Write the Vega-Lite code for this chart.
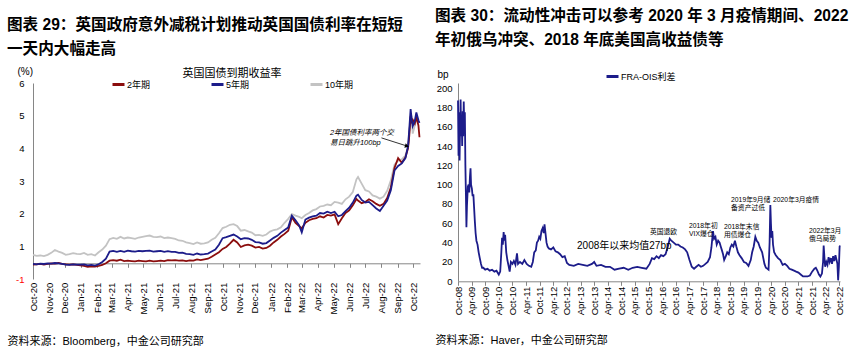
{
"$schema":"https://vega.github.io/schema/vega-lite/v6.json",
"background":"white",
"padding":{"left":7,"top":9,"right":5,"bottom":5},
"config":{"font":"Liberation Sans, Noto Sans CJK SC","view":{"stroke":null},
 "axis":{"grid":false,"labelColor":"black","titleColor":"black","domainColor":"#868686","tickColor":"#868686","labelFontSize":9.5,"labelFont":"Liberation Sans, Noto Sans CJK SC","titleFont":"Liberation Sans, Noto Sans CJK SC"},
 "legend":{"labelFont":"Liberation Sans, Noto Sans CJK SC","titleFont":"Liberation Sans, Noto Sans CJK SC","labelColor":"black","titleColor":"black"},
 "text":{"font":"Liberation Sans, Noto Sans CJK SC"}},
"spacing":11,
"resolve":{"scale":{"x":"independent","y":"independent","color":"independent"},"legend":{"color":"independent"}},
"hconcat":[
{
 "width":387,"height":196,
 "title":{"text":["图表 29：英国政府意外减税计划推动英国国债利率在短短","一天内大幅走高"],"anchor":"start","fontSize":15.6,"fontWeight":"bold","lineHeight":24,"dx":0,"offset":8.5,"color":"black","font":"Liberation Sans, Noto Sans CJK SC"},
 "layer":[
 {
  "data":{"values":[
{"d":"2020/10/01","2年期":0.44,"5年期":0.46,"10年期":0.74},
{"d":"2020/10/08","2年期":0.45,"5年期":0.45,"10年期":0.71},
{"d":"2020/10/15","2年期":0.46,"5年期":0.47,"10年期":0.72},
{"d":"2020/10/22","2年期":0.44,"5年期":0.46,"10年期":0.70},
{"d":"2020/10/29","2年期":0.46,"5年期":0.48,"10年期":0.74},
{"d":"2020/11/05","2年期":0.48,"5年期":0.47,"10年期":0.80},
{"d":"2020/11/12","2年期":0.47,"5年期":0.49,"10年期":0.89},
{"d":"2020/11/19","2年期":0.49,"5年期":0.48,"10年期":0.84},
{"d":"2020/11/26","2年期":0.46,"5年期":0.46,"10年期":0.80},
{"d":"2020/12/03","2年期":0.45,"5年期":0.44,"10年期":0.74},
{"d":"2020/12/10","2年期":0.44,"5年期":0.43,"10年期":0.76},
{"d":"2020/12/17","2年期":0.45,"5年期":0.45,"10年期":0.79},
{"d":"2020/12/24","2年期":0.43,"5年期":0.44,"10年期":0.77},
{"d":"2020/12/31","2年期":0.42,"5年期":0.44,"10年期":0.76},
{"d":"2021/01/07","2年期":0.40,"5年期":0.45,"10年期":0.80},
{"d":"2021/01/14","2年期":0.37,"5年期":0.42,"10年期":0.74},
{"d":"2021/01/21","2年期":0.39,"5年期":0.43,"10年期":0.76},
{"d":"2021/01/28","2年期":0.38,"5年期":0.41,"10年期":0.72},
{"d":"2021/02/04","2年期":0.40,"5年期":0.45,"10年期":0.82},
{"d":"2021/02/11","2年期":0.43,"5年期":0.52,"10年期":0.90},
{"d":"2021/02/18","2年期":0.48,"5年期":0.62,"10年期":1.02},
{"d":"2021/02/25","2年期":0.56,"5年期":0.84,"10年期":1.22},
{"d":"2021/03/04","2年期":0.58,"5年期":0.86,"10年期":1.26},
{"d":"2021/03/11","2年期":0.56,"5年期":0.83,"10年期":1.23},
{"d":"2021/03/18","2年期":0.59,"5年期":0.86,"10年期":1.29},
{"d":"2021/03/25","2年期":0.55,"5年期":0.83,"10年期":1.24},
{"d":"2021/04/01","2年期":0.56,"5年期":0.87,"10年期":1.27},
{"d":"2021/04/08","2年期":0.55,"5年期":0.85,"10年期":1.25},
{"d":"2021/04/15","2年期":0.54,"5年期":0.84,"10年期":1.23},
{"d":"2021/04/22","2年期":0.56,"5年期":0.86,"10年期":1.27},
{"d":"2021/04/29","2年期":0.55,"5年期":0.85,"10年期":1.29},
{"d":"2021/05/06","2年期":0.54,"5年期":0.86,"10年期":1.31},
{"d":"2021/05/13","2年期":0.56,"5年期":0.87,"10年期":1.33},
{"d":"2021/05/20","2年期":0.54,"5年期":0.84,"10年期":1.29},
{"d":"2021/05/27","2年期":0.55,"5年期":0.85,"10年期":1.28},
{"d":"2021/06/03","2年期":0.56,"5年期":0.86,"10年期":1.30},
{"d":"2021/06/10","2年期":0.55,"5年期":0.83,"10年期":1.25},
{"d":"2021/06/17","2年期":0.58,"5年期":0.85,"10年期":1.27},
{"d":"2021/06/24","2年期":0.57,"5年期":0.83,"10年期":1.25},
{"d":"2021/07/01","2年期":0.58,"5年期":0.83,"10年期":1.23},
{"d":"2021/07/08","2年期":0.56,"5年期":0.80,"10年期":1.18},
{"d":"2021/07/15","2年期":0.57,"5年期":0.81,"10年期":1.17},
{"d":"2021/07/22","2年期":0.55,"5年期":0.77,"10年期":1.12},
{"d":"2021/07/29","2年期":0.57,"5年期":0.76,"10年期":1.10},
{"d":"2021/08/05","2年期":0.56,"5年期":0.74,"10年期":1.07},
{"d":"2021/08/12","2年期":0.60,"5年期":0.78,"10年期":1.12},
{"d":"2021/08/19","2年期":0.58,"5年期":0.75,"10年期":1.08},
{"d":"2021/08/26","2年期":0.60,"5年期":0.76,"10年期":1.09},
{"d":"2021/09/02","2年期":0.62,"5年期":0.78,"10年期":1.12},
{"d":"2021/09/09","2年期":0.68,"5年期":0.84,"10年期":1.20},
{"d":"2021/09/16","2年期":0.75,"5年期":0.90,"10年期":1.26},
{"d":"2021/09/23","2年期":0.82,"5年期":1.05,"10年期":1.40},
{"d":"2021/09/30","2年期":0.92,"5年期":1.25,"10年期":1.56},
{"d":"2021/10/07","2年期":0.98,"5年期":1.28,"10年期":1.60},
{"d":"2021/10/14","2年期":1.08,"5年期":1.32,"10年期":1.66},
{"d":"2021/10/21","2年期":1.20,"5年期":1.36,"10年期":1.68},
{"d":"2021/10/28","2年期":1.12,"5年期":1.30,"10年期":1.62},
{"d":"2021/11/04","2年期":0.98,"5年期":1.22,"10年期":1.48},
{"d":"2021/11/11","2年期":1.03,"5年期":1.25,"10年期":1.50},
{"d":"2021/11/18","2年期":1.05,"5年期":1.24,"10年期":1.46},
{"d":"2021/11/25","2年期":1.02,"5年期":1.20,"10年期":1.42},
{"d":"2021/12/02","2年期":0.96,"5年期":1.13,"10年期":1.34},
{"d":"2021/12/09","2年期":0.98,"5年期":1.12,"10年期":1.35},
{"d":"2021/12/16","2年期":0.93,"5年期":1.08,"10年期":1.32},
{"d":"2021/12/23","2年期":0.95,"5年期":1.10,"10年期":1.36},
{"d":"2021/12/30","2年期":1.02,"5年期":1.18,"10年期":1.45},
{"d":"2022/01/06","2年期":1.12,"5年期":1.26,"10年期":1.50},
{"d":"2022/01/13","2年期":1.20,"5年期":1.32,"10年期":1.52},
{"d":"2022/01/20","2年期":1.30,"5年期":1.42,"10年期":1.58},
{"d":"2022/01/27","2年期":1.38,"5年期":1.50,"10年期":1.72},
{"d":"2022/02/03","2年期":1.48,"5年期":1.58,"10年期":1.84},
{"d":"2022/02/10","2年期":1.89,"5年期":1.94,"10年期":1.99},
{"d":"2022/02/17","2年期":1.72,"5年期":1.80,"10年期":1.94},
{"d":"2022/02/24","2年期":1.62,"5年期":1.64,"10年期":1.90},
{"d":"2022/03/01","2年期":1.55,"5年期":1.43,"10年期":1.86},
{"d":"2022/03/08","2年期":1.72,"5年期":1.82,"10年期":1.96},
{"d":"2022/03/15","2年期":1.80,"5年期":1.88,"10年期":2.02},
{"d":"2022/03/22","2年期":1.84,"5年期":1.92,"10年期":2.10},
{"d":"2022/03/29","2年期":1.86,"5年期":1.94,"10年期":2.14},
{"d":"2022/04/05","2年期":1.92,"5年期":2.02,"10年期":2.22},
{"d":"2022/04/12","2年期":1.88,"5年期":2.00,"10年期":2.24},
{"d":"2022/04/19","2年期":1.96,"5年期":2.06,"10年期":2.28},
{"d":"2022/04/26","2年期":1.94,"5年期":2.02,"10年期":2.26},
{"d":"2022/05/03","2年期":1.98,"5年期":2.06,"10年期":2.36},
{"d":"2022/05/10","2年期":1.68,"5年期":1.92,"10年期":2.34},
{"d":"2022/05/17","2年期":1.86,"5年期":1.96,"10年期":2.30},
{"d":"2022/05/24","2年期":2.02,"5年期":2.08,"10年期":2.44},
{"d":"2022/05/31","2年期":2.10,"5年期":2.18,"10年期":2.52},
{"d":"2022/06/07","2年期":2.26,"5年期":2.34,"10年期":2.66},
{"d":"2022/06/14","2年期":2.45,"5年期":2.55,"10年期":3.05},
{"d":"2022/06/17","2年期":2.40,"5年期":2.58,"10年期":3.12},
{"d":"2022/06/24","2年期":2.32,"5年期":2.42,"10年期":2.92},
{"d":"2022/07/01","2年期":2.36,"5年期":2.34,"10年期":2.72},
{"d":"2022/07/08","2年期":2.44,"5年期":2.36,"10年期":2.68},
{"d":"2022/07/15","2年期":2.38,"5年期":2.26,"10年期":2.56},
{"d":"2022/07/22","2年期":2.30,"5年期":2.16,"10年期":2.52},
{"d":"2022/07/29","2年期":2.24,"5年期":2.08,"10年期":2.46},
{"d":"2022/08/05","2年期":2.30,"5年期":2.24,"10年期":2.52},
{"d":"2022/08/12","2年期":2.48,"5年期":2.40,"10年期":2.70},
{"d":"2022/08/19","2年期":2.80,"5年期":2.72,"10年期":3.02},
{"d":"2022/08/26","2年期":3.40,"5年期":3.32,"10年期":3.50},
{"d":"2022/09/02","2年期":3.70,"5年期":3.46,"10年期":3.62},
{"d":"2022/09/09","2年期":3.56,"5年期":3.54,"10年期":3.66},
{"d":"2022/09/16","2年期":3.72,"5年期":3.70,"10年期":3.78},
{"d":"2022/09/21","2年期":4.00,"5年期":4.06,"10年期":4.06},
{"d":"2022/09/23","2年期":4.30,"5年期":4.50,"10年期":4.40},
{"d":"2022/09/26","2年期":4.98,"5年期":5.20,"10年期":4.94},
{"d":"2022/09/28","2年期":4.82,"5年期":4.90,"10年期":4.96},
{"d":"2022/09/30","2年期":4.88,"5年期":4.68,"10年期":4.45},
{"d":"2022/10/04","2年期":4.76,"5年期":4.84,"10年期":4.70},
{"d":"2022/10/07","2年期":4.95,"5年期":5.10,"10年期":4.90},
{"d":"2022/10/11","2年期":4.70,"5年期":4.86,"10年期":4.80},
{"d":"2022/10/13","2年期":4.34,"5年期":4.78,"10年期":4.82}
  ]},
  "transform":[{"fold":["10年期","2年期","5年期"],"as":["k","v"]}],
  "mark":{"type":"line","strokeWidth":1.8},
  "encoding":{
   "x":{"field":"d","type":"temporal","scale":{"domain":[{"year":2020,"month":10,"date":1},{"year":2022,"month":10,"date":14}]},
    "axis":{"title":"资料来源：Bloomberg，中金公司研究部","titleFontSize":11,"titleFontWeight":"normal","titleAlign":"left","titleAnchor":"start","titleX":-26,"titleY":78,"titleBaseline":"middle",
     "format":"%b-%y","tickCount":{"interval":"month","step":1},"labelAngle":-90,"offset":-15.7,"tickSize":4,"labelPadding":15,"labelOverlap":false,"labelFlush":false,"labelBound":false}},
   "y":{"field":"v","type":"quantitative","scale":{"domain":[0,6],"nice":false,"zero":false},
    "axis":{"title":"(%)","titleAngle":0,"titleX":-16,"titleY":-12,"titleAlign":"left","titleBaseline":"middle","titleFontSize":10,"titleFontWeight":"normal",
     "values":[0,1,2,3,4,5,6],"tickCount":20,"format":"d","labelOverlap":false,"labelExpr":"datum.value == 0 ? '-1' : datum.label","labelColor":{"condition":{"test":"datum.value == 0","value":"#ff0000"},"value":"black"},"ticks":false,"labelPadding":9}},
   "color":{"field":"k","type":"nominal","scale":{"domain":["2年期","5年期","10年期"],"range":["#8b0d0d","#1c1c8a","#c3c3c3"]},
    "legend":{"orient":"none","legendX":78,"legendY":-15,"direction":"horizontal","columns":3,"gridAlign":"none","columnPadding":54,"title":"英国国债到期收益率","titleAnchor":"middle","titleFontSize":11,"titleFontWeight":"normal","titlePadding":-2,"labelFontSize":9,"symbolType":"stroke","symbolSize":144,"symbolStrokeWidth":3,"labelOffset":1,"padding":0,"rowPadding":0}}
  }
 },
 {
  "data":{"values":[{"d":"2022/04/24","v":4.58,"t":"2年国债利率两个交\n易日跳升100bp"}]},
  "mark":{"type":"text","align":"left","baseline":"top","fontSize":7.5,"fontStyle":"italic","lineBreak":"\n","lineHeight":10,"color":"black"},
  "encoding":{"x":{"field":"d","type":"temporal"},"y":{"field":"v","type":"quantitative"},"text":{"field":"t"}}
 },
 {
  "data":{"values":[{"d":"2022/08/01","v":4.32,"d2":"2022/09/19","v2":4.07}]},
  "mark":{"type":"rule","color":"black","strokeWidth":0.8},
  "encoding":{"x":{"field":"d","type":"temporal"},"y":{"field":"v","type":"quantitative"},"x2":{"field":"d2"},"y2":{"field":"v2"}}
 },
 {
  "data":{"values":[{"d":"2022/09/19","v":4.07}]},
  "mark":{"type":"point","shape":"triangle-right","angle":17,"size":22,"filled":true,"color":"black","opacity":1},
  "encoding":{"x":{"field":"d","type":"temporal"},"y":{"field":"v","type":"quantitative"}}
 }
 ]
},
{
 "width":382,"height":198.3,
 "title":{"text":["图表 30：流动性冲击可以参考 2020 年 3 月疫情期间、2022","年初俄乌冲突、2018 年底美国高收益债等"],"anchor":"start","fontSize":15.6,"fontWeight":"bold","lineHeight":24,"dx":0,"offset":20,"color":"black","font":"Liberation Sans, Noto Sans CJK SC"},
 "layer":[
 {
  "data":{"values":[
{"d":"2008/10/01","v":187},{"d":"2008/10/08","v":130},{"d":"2008/10/15","v":175},{"d":"2008/10/22","v":125},{"d":"2008/10/29","v":160},
{"d":"2008/11/05","v":188},{"d":"2008/11/12","v":150},{"d":"2008/11/19","v":172},{"d":"2008/11/26","v":140},{"d":"2008/12/03","v":176},
{"d":"2008/12/10","v":150},{"d":"2008/12/17","v":186},{"d":"2008/12/24","v":160},{"d":"2009/01/01","v":175},{"d":"2009/01/08","v":120},
{"d":"2009/01/15","v":90},{"d":"2009/01/22","v":56},{"d":"2009/01/29","v":78},{"d":"2009/02/10","v":98},{"d":"2009/02/20","v":100},
{"d":"2009/03/01","v":92},{"d":"2009/03/10","v":108},{"d":"2009/03/18","v":117},{"d":"2009/03/25","v":100},{"d":"2009/04/05","v":96},
{"d":"2009/04/15","v":88},{"d":"2009/04/25","v":90},{"d":"2009/05/05","v":76},{"d":"2009/05/15","v":62},{"d":"2009/05/25","v":50},
{"d":"2009/06/05","v":42},{"d":"2009/06/20","v":38},{"d":"2009/07/05","v":30},{"d":"2009/07/20","v":24},{"d":"2009/08/05","v":18},
{"d":"2009/08/20","v":14},{"d":"2009/09/05","v":14},{"d":"2009/10/01","v":12},{"d":"2009/11/01","v":13},{"d":"2009/12/01","v":11},
{"d":"2010/01/01","v":12},{"d":"2010/02/01","v":10},{"d":"2010/03/01","v":11},{"d":"2010/04/01","v":7},{"d":"2010/04/20","v":10},
{"d":"2010/05/05","v":30},{"d":"2010/05/15","v":45},{"d":"2010/05/25","v":38},{"d":"2010/06/05","v":51},{"d":"2010/06/15","v":42},
{"d":"2010/06/25","v":48},{"d":"2010/07/10","v":30},{"d":"2010/07/25","v":22},{"d":"2010/08/10","v":16},{"d":"2010/08/25","v":10},
{"d":"2010/09/10","v":20},{"d":"2010/10/01","v":18},{"d":"2010/10/20","v":21},{"d":"2010/11/10","v":17},{"d":"2010/12/01","v":29},
{"d":"2010/12/15","v":18},{"d":"2011/01/10","v":20},{"d":"2011/02/10","v":18},{"d":"2011/03/10","v":22},{"d":"2011/04/10","v":18},
{"d":"2011/05/10","v":16},{"d":"2011/06/10","v":15},{"d":"2011/07/01","v":20},{"d":"2011/07/20","v":30},{"d":"2011/08/10","v":32},
{"d":"2011/08/25","v":40},{"d":"2011/09/10","v":42},{"d":"2011/09/25","v":46},{"d":"2011/10/10","v":44},{"d":"2011/10/25","v":52},
{"d":"2011/11/10","v":55},{"d":"2011/11/25","v":50},{"d":"2011/12/05","v":59},{"d":"2011/12/15","v":52},{"d":"2012/01/01","v":40},
{"d":"2012/01/15","v":36},{"d":"2012/02/01","v":34},{"d":"2012/03/01","v":33},{"d":"2012/04/01","v":35},{"d":"2012/05/01","v":31},
{"d":"2012/06/01","v":30},{"d":"2012/07/01","v":28},{"d":"2012/08/01","v":25},{"d":"2012/09/01","v":26},{"d":"2012/10/01","v":19},
{"d":"2012/11/01","v":17},{"d":"2013/01/01","v":16},{"d":"2013/03/01","v":18},{"d":"2013/05/01","v":17},{"d":"2013/07/01","v":16},
{"d":"2013/09/01","v":18},{"d":"2013/10/01","v":20},{"d":"2013/11/01","v":16},{"d":"2014/01/01","v":17},{"d":"2014/03/01","v":15},
{"d":"2014/05/01","v":15},{"d":"2014/07/01","v":12},{"d":"2014/09/01","v":13},{"d":"2014/11/01","v":14},{"d":"2015/01/01","v":12},
{"d":"2015/03/01","v":14},{"d":"2015/05/01","v":15},{"d":"2015/07/01","v":14},{"d":"2015/09/01","v":13},{"d":"2015/10/15","v":18},
{"d":"2015/11/15","v":24},{"d":"2015/12/15","v":23},{"d":"2016/01/15","v":26},{"d":"2016/02/15","v":24},{"d":"2016/03/15","v":27},
{"d":"2016/04/15","v":26},{"d":"2016/05/15","v":28},{"d":"2016/06/15","v":36},{"d":"2016/07/10","v":44},{"d":"2016/08/01","v":42},
{"d":"2016/09/01","v":40},{"d":"2016/10/01","v":38},{"d":"2016/11/01","v":38},{"d":"2016/12/01","v":36},{"d":"2017/01/01","v":35},
{"d":"2017/02/01","v":33},{"d":"2017/03/01","v":30},{"d":"2017/04/01","v":22},{"d":"2017/05/01","v":15},{"d":"2017/06/01","v":13},
{"d":"2017/07/01","v":15},{"d":"2017/08/01","v":17},{"d":"2017/09/01","v":15},{"d":"2017/10/01","v":16},{"d":"2017/11/01","v":18},
{"d":"2017/12/01","v":20},{"d":"2018/01/01","v":25},{"d":"2018/01/20","v":35},{"d":"2018/02/10","v":52},{"d":"2018/02/25","v":44},
{"d":"2018/03/15","v":46},{"d":"2018/04/01","v":38},{"d":"2018/04/20","v":42},{"d":"2018/05/10","v":40},{"d":"2018/05/25","v":36},
{"d":"2018/06/10","v":32},{"d":"2018/06/25","v":28},{"d":"2018/07/10","v":22},{"d":"2018/08/01","v":26},{"d":"2018/08/20","v":30},
{"d":"2018/09/10","v":28},{"d":"2018/10/01","v":35},{"d":"2018/10/20","v":38},{"d":"2018/11/10","v":36},{"d":"2018/12/01","v":42},
{"d":"2018/12/20","v":36},{"d":"2019/01/10","v":30},{"d":"2019/02/01","v":27},{"d":"2019/03/01","v":24},{"d":"2019/04/01","v":20},
{"d":"2019/05/01","v":19},{"d":"2019/06/01","v":16},{"d":"2019/07/01","v":22},{"d":"2019/07/20","v":30},{"d":"2019/08/10","v":36},
{"d":"2019/09/01","v":46},{"d":"2019/09/20","v":42},{"d":"2019/10/10","v":40},{"d":"2019/11/01","v":35},{"d":"2019/12/01","v":30},
{"d":"2020/01/01","v":18},{"d":"2020/01/20","v":14},{"d":"2020/02/10","v":13},{"d":"2020/02/25","v":12},{"d":"2020/03/10","v":40},
{"d":"2020/03/20","v":79},{"d":"2020/03/28","v":60},{"d":"2020/04/05","v":45},{"d":"2020/04/15","v":52},{"d":"2020/04/25","v":38},
{"d":"2020/05/10","v":30},{"d":"2020/06/01","v":27},{"d":"2020/07/01","v":24},{"d":"2020/08/01","v":22},{"d":"2020/09/01","v":17},
{"d":"2020/10/01","v":18},{"d":"2020/11/01","v":16},{"d":"2020/12/01","v":13},{"d":"2021/01/01","v":12},{"d":"2021/02/01","v":11},
{"d":"2021/03/01","v":10},{"d":"2021/04/01","v":9},{"d":"2021/05/01","v":7},{"d":"2021/06/01","v":5},{"d":"2021/07/01","v":5},
{"d":"2021/08/01","v":5},{"d":"2021/09/01","v":6},{"d":"2021/10/01","v":10},{"d":"2021/11/01","v":13},{"d":"2021/11/20","v":14},
{"d":"2021/12/10","v":11},{"d":"2022/01/01","v":7},{"d":"2022/01/20","v":5},{"d":"2022/02/10","v":8},{"d":"2022/02/25","v":20},
{"d":"2022/03/05","v":37},{"d":"2022/03/15","v":25},{"d":"2022/03/25","v":15},{"d":"2022/04/10","v":20},{"d":"2022/04/25","v":17},
{"d":"2022/05/10","v":25},{"d":"2022/05/25","v":20},{"d":"2022/06/10","v":24},{"d":"2022/06/25","v":18},{"d":"2022/07/10","v":26},
{"d":"2022/07/25","v":21},{"d":"2022/08/10","v":27},{"d":"2022/08/25","v":22},{"d":"2022/09/05","v":18},{"d":"2022/09/15","v":1},
{"d":"2022/09/25","v":15},{"d":"2022/10/05","v":36},{"d":"2022/10/10","v":37}
  ]},
  "mark":{"type":"line","strokeWidth":1.8},
  "encoding":{
   "x":{"field":"d","type":"temporal","scale":{"domain":[{"year":2008,"month":10,"date":1},{"year":2022,"month":10,"date":10}]},
    "axis":{"title":"资料来源：Haver，中金公司研究部","titleFontSize":11,"titleFontWeight":"normal","titleAlign":"left","titleAnchor":"start","titleX":-23,"titleY":59,"titleBaseline":"middle",
     "format":"%b-%y","labelAngle":-90,"tickSize":4,"labelPadding":1,"labelOverlap":false,"labelFlush":false,"labelBound":false,"tickCount":60,
     "values":[{"year":2008,"month":10,"date":1},{"year":2009,"month":4,"date":1},{"year":2009,"month":10,"date":1},{"year":2010,"month":4,"date":1},{"year":2010,"month":10,"date":1},{"year":2011,"month":4,"date":1},{"year":2011,"month":10,"date":1},{"year":2012,"month":4,"date":1},{"year":2012,"month":10,"date":1},{"year":2013,"month":4,"date":1},{"year":2013,"month":10,"date":1},{"year":2014,"month":4,"date":1},{"year":2014,"month":10,"date":1},{"year":2015,"month":4,"date":1},{"year":2015,"month":10,"date":1},{"year":2016,"month":4,"date":1},{"year":2016,"month":10,"date":1},{"year":2017,"month":4,"date":1},{"year":2017,"month":10,"date":1},{"year":2018,"month":4,"date":1},{"year":2018,"month":10,"date":1},{"year":2019,"month":4,"date":1},{"year":2019,"month":10,"date":1},{"year":2020,"month":4,"date":1},{"year":2020,"month":10,"date":1},{"year":2021,"month":4,"date":1},{"year":2021,"month":10,"date":1},{"year":2022,"month":4,"date":1},{"year":2022,"month":10,"date":1}]}},
   "y":{"field":"v","type":"quantitative","scale":{"domain":[0,205.2],"nice":false},
    "axis":{"title":"bp","titleAngle":0,"titleX":-21,"titleY":-9,"titleAlign":"left","titleBaseline":"middle","titleFontSize":10,"titleFontWeight":"normal",
     "values":[0,20,40,60,80,100,120,140,160,180,200],"tickCount":30,"labelOverlap":false,"ticks":false,"labelPadding":6}},
   "color":{"datum":"FRA-OIS利差","type":"nominal","scale":{"range":["#1c1c8a"]},
    "legend":{"orient":"none","legendX":147,"legendY":-14,"title":null,"labelFontSize":9,"symbolType":"stroke","symbolSize":144,"symbolStrokeWidth":3,"labelOffset":1,"padding":0}}
  }
 },
 {
  "mark":{"type":"rule","color":"#ff0000","strokeDash":[7,4],"strokeWidth":1.5},
  "encoding":{"y":{"datum":27,"type":"quantitative"}}
 },
 {
  "data":{"values":[{"d":"2013/02/13","v":36.6,"t":"2008年以来均值27bp"}]},
  "mark":{"type":"text","align":"left","baseline":"middle","fontSize":10,"color":"black"},
  "encoding":{"x":{"field":"d","type":"temporal"},"y":{"field":"v","type":"quantitative"},"text":{"field":"t"}}
 },
 {
  "data":{"values":[
   {"d":"2015/10/19","v":53.7,"t":"英国退欧"},
   {"d":"2017/03/25","v":60.4,"t":"2018年初\nVIX爆仓"},
   {"d":"2018/07/07","v":59.4,"t":"2018年末信\n用债爆仓"},
   {"d":"2018/10/10","v":87.3,"t":"2019年9月储\n备资产过低"},
   {"d":"2020/04/25","v":86.8,"t":"2020年3月疫情"},
   {"d":"2021/08/19","v":55.2,"t":"2022年3月\n俄乌局势"}
  ]},
  "mark":{"type":"text","align":"left","baseline":"top","fontSize":6.8,"lineBreak":"\n","lineHeight":8.5,"color":"black"},
  "encoding":{"x":{"field":"d","type":"temporal"},"y":{"field":"v","type":"quantitative"},"text":{"field":"t"}}
 }
 ]
}
]
}
